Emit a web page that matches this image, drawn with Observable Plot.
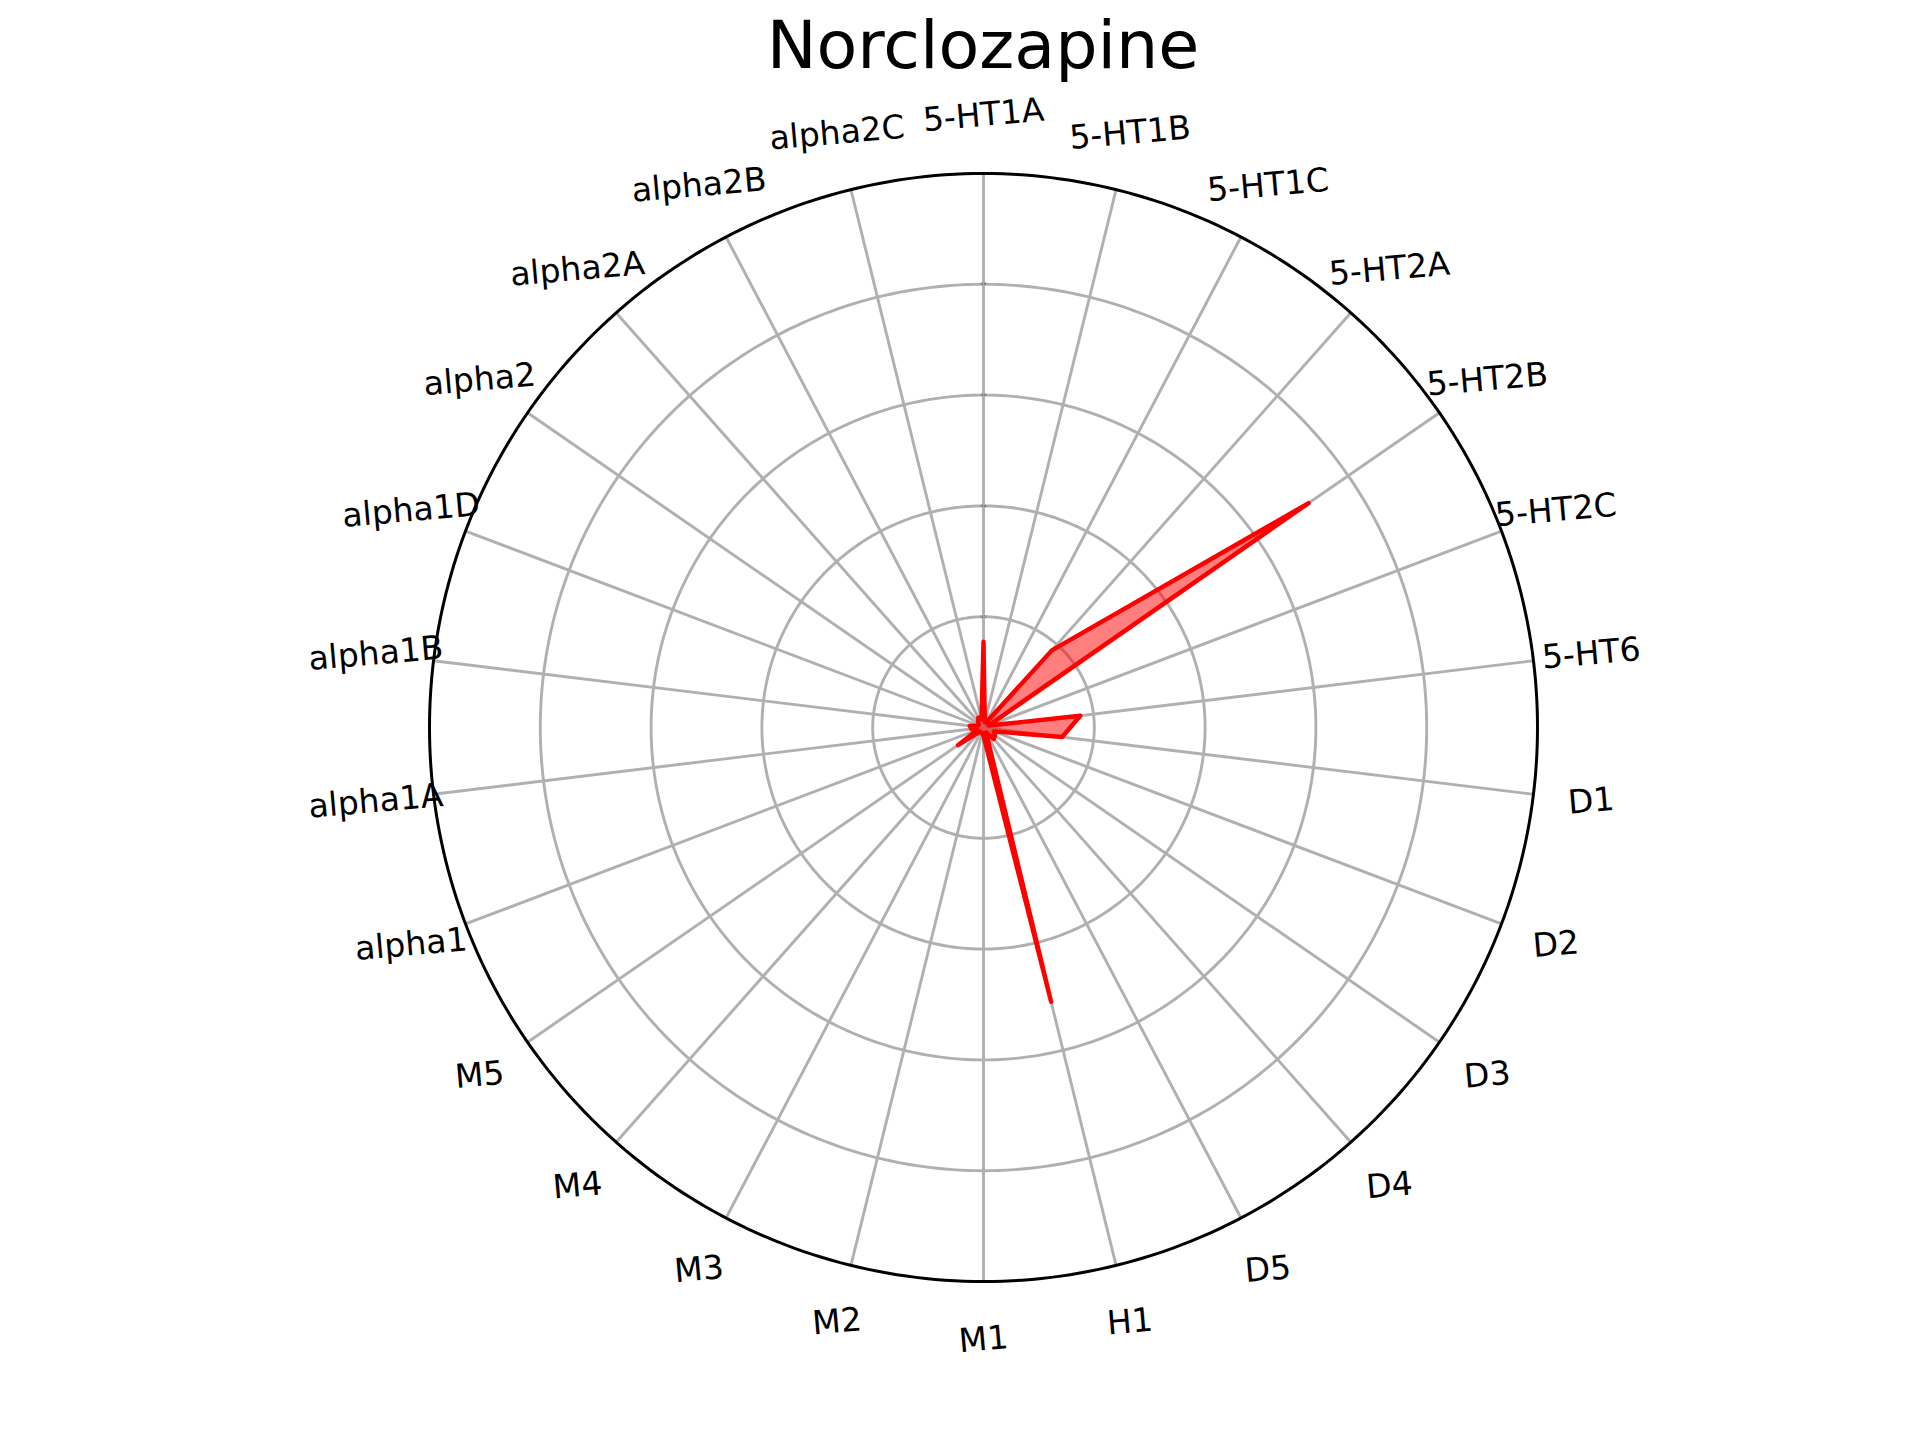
<!DOCTYPE html>
<html>
<head>
<meta charset="utf-8">
<script src="https://cdn.jsdelivr.net/npm/d3@7"></script>
<script src="https://cdn.jsdelivr.net/npm/@observablehq/plot@0.6"></script>
<style>
  html, body { margin: 0; padding: 0; background: #fff; overflow: hidden; }
  body { font-family: "DejaVu Sans", sans-serif; }
  #title { width: 1966px; height: 90px; line-height: 90px; text-align: center; font-size: 66.7px; color: #000; white-space: nowrap; }
</style>
</head>
<body>
<div id="title">Norclozapine</div>
<div id="chart"></div>
<script>
// Categories, clockwise from the top
const categories = ["5-HT1A", "5-HT1B", "5-HT1C", "5-HT2A", "5-HT2B", "5-HT2C", "5-HT6",
  "D1", "D2", "D3", "D4", "D5", "H1", "M1", "M2", "M3", "M4", "M5",
  "alpha1", "alpha1A", "alpha1B", "alpha1D", "alpha2", "alpha2A", "alpha2B", "alpha2C"];
// Values (fraction of the outer ring)
const values = [0.155, 0.01, 0.01, 0.186, 0.713, 0.01, 0.176,
  0.143, 0.02, 0.025, 0.028, 0.01, 0.51, 0.015, 0.01, 0.01, 0.01, 0.056,
  0.012, 0.022, 0.025, 0.01, 0.01, 0.015, 0.02, 0.015];
// Radial grid rings and their (tiny) labels
const ringTicks = [0.2, 0.4, 0.6, 0.8];
const ringLabels = ["0.2", "0.4", "0.6", "0.8", "1.0"];
const outerRing = 1.0;

const n = categories.length;
const rows = categories.map((c, i) => ({cat: c, angle: i * 2 * Math.PI / n, r: values[i]}));
const ringPts = ringTicks.flatMap(r => d3.range(0, 361).map(k => ({ring: r, a: k * Math.PI / 180})));
const outerPts = d3.range(0, 361).map(k => ({ring: outerRing, a: k * Math.PI / 180}));
const labelR = 1.105;

const chart = Plot.plot({
  width: 1920,
  height: 1350,
  marginLeft: 429,
  marginRight: 383,
  marginTop: 83,
  marginBottom: 159,
  x: {domain: [-1, 1], axis: null},
  y: {domain: [-1, 1], axis: null},
  style: {fontFamily: "DejaVu Sans", background: "white", overflow: "visible"},
  marks: [
    // spokes
    Plot.link(rows, {
      x1: 0, y1: 0,
      x2: d => outerRing * Math.sin(d.angle),
      y2: d => outerRing * Math.cos(d.angle),
      stroke: "#b0b0b0", strokeWidth: 2.9
    }),
    // grid rings
    Plot.line(ringPts, {
      x: d => d.ring * Math.sin(d.a),
      y: d => d.ring * Math.cos(d.a),
      z: "ring", stroke: "#b0b0b0", strokeWidth: 2.9
    }),
    // data polygon
    Plot.line(rows, {
      x: d => d.r * Math.sin(d.angle),
      y: d => d.r * Math.cos(d.angle),
      curve: "linear-closed",
      fill: "red", fillOpacity: 0.5,
      stroke: "red", strokeWidth: 4.4, strokeLinejoin: "round", strokeLinecap: "round"
    }),
    // outer circle (spine)
    Plot.line(outerPts, {
      x: d => d.ring * Math.sin(d.a),
      y: d => d.ring * Math.cos(d.a),
      stroke: "black", strokeWidth: 3
    }),
    // tiny radial labels
    Plot.text(ringLabels, {
      x: 0,
      y: (d, i) => (i + 1) * 0.2,
      text: d => d,
      fontSize: 3.5, fill: "#333"
    }),
    // category labels
    Plot.text(rows, {
      x: d => labelR * Math.sin(d.angle),
      y: d => labelR * Math.cos(d.angle),
      text: "cat",
      fontSize: 33, rotate: -5, fill: "black"
    })
  ]
});
document.getElementById("chart").append(chart);
</script>
</body>
</html>
